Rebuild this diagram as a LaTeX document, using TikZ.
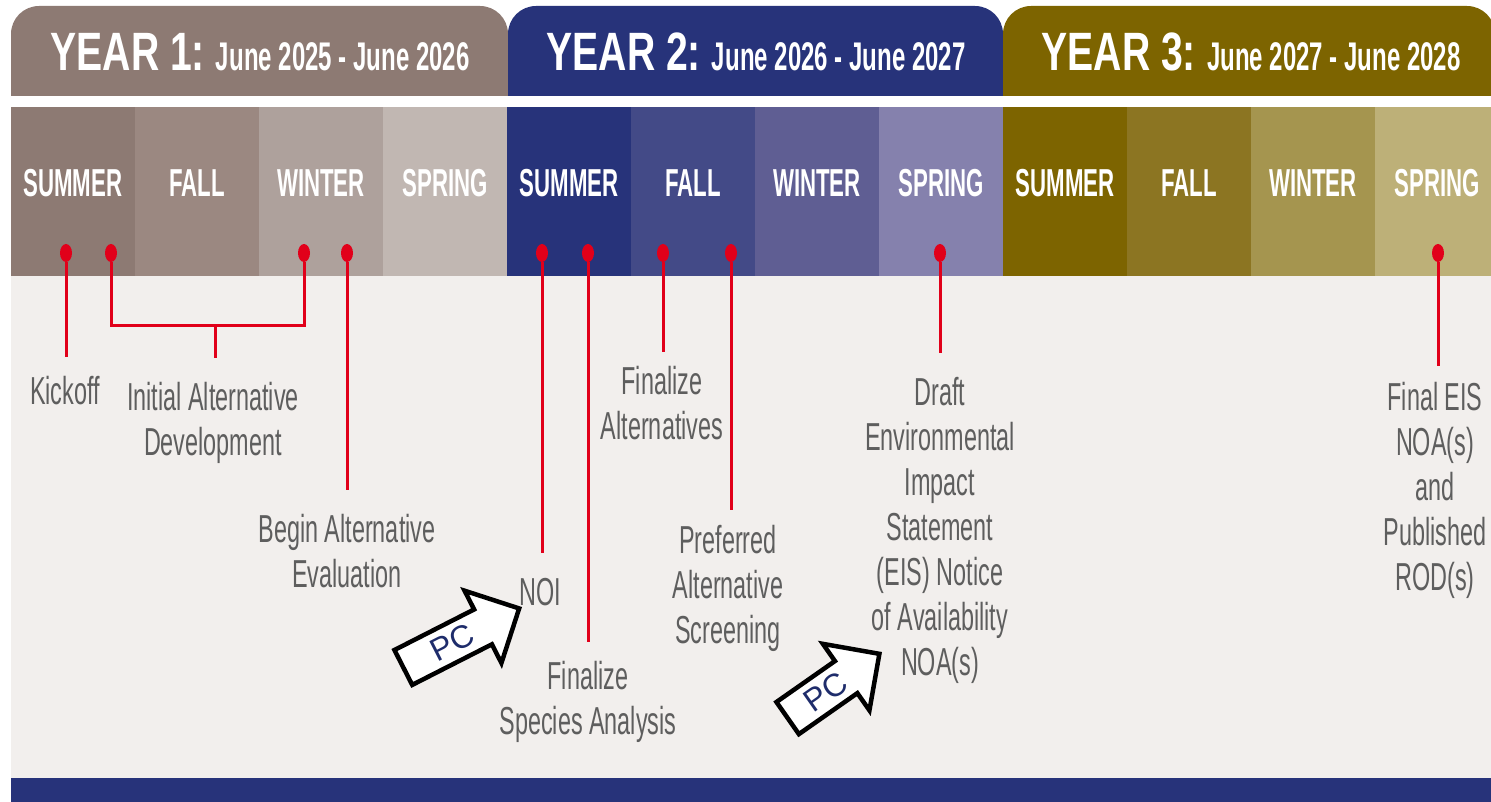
\documentclass[tikz,border=0pt]{standalone}
\usepackage{fontspec}
\setmainfont{Liberation Sans}
\newfontfamily\narrowfont[FakeStretch=0.6]{Liberation Sans}
\newfontfamily\condfont[FakeStretch=0.57]{Liberation Sans}
\newfontfamily\headfont[FakeStretch=0.725]{Liberation Sans}
\usepackage{tikz}
\usetikzlibrary{positioning, shapes.geometric, shapes.arrows}

\definecolor{yrone}{HTML}{8D7A73}
\definecolor{yronefa}{HTML}{9B8881}
\definecolor{yronewi}{HTML}{AEA19C}
\definecolor{yronesp}{HTML}{C1B7B2}
\definecolor{yrtwo}{HTML}{27337A}
\definecolor{yrtwofa}{HTML}{434A87}
\definecolor{yrtwowi}{HTML}{5F5E93}
\definecolor{yrtwosp}{HTML}{8581AD}
\definecolor{yrthree}{HTML}{7D6400}
\definecolor{yrthreefa}{HTML}{8C7522}
\definecolor{yrthreewi}{HTML}{A5954F}
\definecolor{yrthreesp}{HTML}{BDB078}
\definecolor{mred}{HTML}{E1001A}
\definecolor{bodybg}{HTML}{F2EFED}
\definecolor{tgrey}{HTML}{5E5E5E}
\definecolor{pcblue}{HTML}{1E2C6B}

\begin{document}
\begin{tikzpicture}[x=1pt, y=-1pt,
    node distance=0pt,
    season/.style={minimum width=124pt, minimum height=169pt, inner sep=0pt, outer sep=0pt, text=white, text height=27pt, text depth=16pt, font=\condfont\bfseries\fontsize{39}{39}\selectfont},
    yeartitle/.style={anchor=base, text=white, inner sep=0pt},
    dot/.style={ellipse, fill=mred, minimum width=12pt, minimum height=18pt, inner sep=0pt},
    stem/.style={draw=mred, line width=3pt},
    event/.style={anchor=north, align=center, text=tgrey, inner sep=0pt, font=\narrowfont\fontsize{39}{45}\selectfont},
    pc/.style={single arrow, draw=black, fill=white, line width=4.5pt, single arrow head extend=21pt, inner xsep=4pt, inner ysep=6pt, anchor=tip, text=pcblue, font=\fontsize{32}{32}\selectfont},
]
\useasboundingbox (0,0) rectangle (1491,802);
\fill[bodybg] (11,276) rectangle (1491,778);
\fill[yrtwo] (11,778) rectangle (1491,802);
\fill[yrone, rounded corners=28pt] (11,6) rectangle (508,150);
\fill[yrtwo, rounded corners=28pt] (508,6) rectangle (1003,150);
\fill[yrthree, rounded corners=28pt] (1003,6) rectangle (1495,150);
\fill[white] (0,96) rectangle (1491,107);

\node[yeartitle] (yr1) at (260,71) {{\headfont\bfseries\fontsize{54}{54}\selectfont YEAR 1:}\hspace{11pt}{\narrowfont\bfseries\fontsize{40}{40}\selectfont June 2025 - June 2026}};
\node[yeartitle] (yr2) at (756,71) {{\headfont\bfseries\fontsize{54}{54}\selectfont YEAR 2:}\hspace{11pt}{\narrowfont\bfseries\fontsize{40}{40}\selectfont June 2026 - June 2027}};
\node[yeartitle] (yr3) at (1251,71) {{\headfont\bfseries\fontsize{54}{54}\selectfont YEAR 3:}\hspace{11pt}{\narrowfont\bfseries\fontsize{40}{40}\selectfont June 2027 - June 2028}};

\node[season, fill=yrone, anchor=north west] (s1) at (11,107) {SUMMER};
\node[season, fill=yronefa, right=of s1] (s2) {FALL};
\node[season, fill=yronewi, right=of s2] (s3) {WINTER};
\node[season, fill=yronesp, right=of s3] (s4) {SPRING};
\node[season, fill=yrtwo, right=of s4] (s5) {SUMMER};
\node[season, fill=yrtwofa, right=of s5] (s6) {FALL};
\node[season, fill=yrtwowi, right=of s6] (s7) {WINTER};
\node[season, fill=yrtwosp, right=of s7] (s8) {SPRING};
\node[season, fill=yrthree, right=of s8] (s9) {SUMMER};
\node[season, fill=yrthreefa, right=of s9] (s10) {FALL};
\node[season, fill=yrthreewi, right=of s10] (s11) {WINTER};
\node[season, fill=yrthreesp, right=of s11] (s12) {SPRING};

\node[dot] (m1) at (66,253) {};
\node[dot] (m2) at (111,253) {};
\node[dot] (m3) at (304,253) {};
\node[dot] (m4) at (347,253) {};
\node[dot] (m5) at (542,253) {};
\node[dot] (m6) at (588,253) {};
\node[dot] (m7) at (663,253) {};
\node[dot] (m8) at (731,253) {};
\node[dot] (m9) at (940,253) {};
\node[dot] (m10) at (1438,253) {};

\node[event] (kick) at (65,376) {Kickoff};
\node[event] (initdev) at (213,382) {Initial Alternative\\Development};
\node[event] (beginev) at (347,514) {Begin Alternative\\Evaluation};
\node[event] (noi) at (540,578) {NOI};
\node[event] (species) at (588,661) {Finalize\\Species Analysis};
\node[event] (finalt) at (662,366) {Finalize\\Alternatives};
\node[event] (prefalt) at (728,525) {Preferred\\Alternative\\Screening};
\node[event] (deis) at (940,377) {Draft\\Environmental\\Impact\\Statement\\(EIS) Notice\\of Availability\\NOA(s)};
\node[event] (feis) at (1435,382) {Final EIS\\NOA(s)\\and\\Published\\ROD(s)};

\coordinate (brk) at (215,325);
\draw[stem, shorten >=19pt] (m1) -- (m1 |- kick.north);
\draw[stem] (m2.south) |- (brk) -| (m3.south);
\draw[stem, shorten >=24pt] (brk) -- (brk |- initdev.north);
\draw[stem, shorten >=24pt] (m4) -- (m4 |- beginev.north);
\draw[stem, shorten >=25pt] (m5) -- (m5 |- noi.north);
\draw[stem, shorten >=19pt] (m6) -- (m6 |- species.north);
\draw[stem, shorten >=14pt] (m7) -- (m7 |- finalt.north);
\draw[stem, shorten >=15pt] (m8) -- (m8 |- prefalt.north);
\draw[stem, shorten >=24pt] (m9) -- (m9 |- deis.north);
\draw[stem, shorten >=16pt] (m10) -- (m10 |- feis.north);

\node[pc, rotate=27, minimum height=130pt] (pc1) at (522,607) {PC};
\node[pc, rotate=35, minimum height=112pt] (pc2) at (882,652) {PC};
\end{tikzpicture}
\end{document}
